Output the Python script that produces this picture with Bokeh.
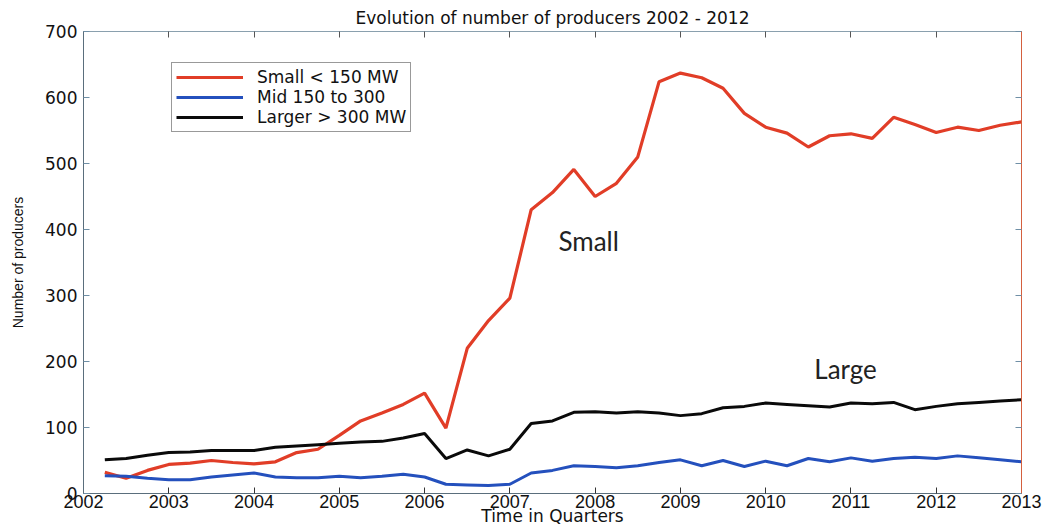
from bokeh.plotting import figure
from bokeh.models import (Range1d, LinearAxis, FixedTicker, Legend, LegendItem, Label,
                          CustomLabelingPolicy)
from bokeh.embed import file_html
from bokeh.resources import INLINE

# ---- data (quarterly) ----
quarters = [2002.25, 2002.5, 2002.75, 2003.0, 2003.25, 2003.5, 2003.75, 2004.0,
            2004.25, 2004.5, 2004.75, 2005.0, 2005.25, 2005.5, 2005.75, 2006.0,
            2006.25, 2006.5, 2006.75, 2007.0, 2007.25, 2007.5, 2007.75, 2008.0,
            2008.25, 2008.5, 2008.75, 2009.0, 2009.25, 2009.5, 2009.75, 2010.0,
            2010.25, 2010.5, 2010.75, 2011.0, 2011.25, 2011.5, 2011.75, 2012.0,
            2012.25, 2012.5, 2012.75, 2013.0]

small = [32, 23, 35, 44, 46, 50, 47, 45,
         48, 62, 67, 88, 110, 122, 135, 152,
         99, 220, 262, 296, 430, 456, 491, 450,
         470, 510, 624, 637, 630, 614, 576, 555,
         546, 525, 542, 545, 538, 570, 559, 547,
         555, 550, 558, 563]

mid = [27, 26, 23, 21, 21, 25, 28, 31,
       25, 24, 24, 26, 24, 26, 29, 25,
       14, 13, 12, 14, 31, 35, 42, 41,
       39, 42, 47, 51, 42, 50, 41, 49,
       42, 53, 48, 54, 49, 53, 55, 53,
       57, 54, 51, 48]

large = [51, 53, 58, 62, 63, 65, 65, 65,
         70, 72, 74, 76, 78, 79, 84, 91,
         53, 66, 57, 67, 106, 110, 123, 124,
         122, 124, 122, 118, 121, 130, 132, 137,
         135, 133, 131, 137, 136, 138, 127, 132,
         136, 138, 140, 142]

series_labels = ["Small < 150 MW", "Mid 150 to 300", "Larger > 300 MW"]
year_ticks = [2002, 2003, 2004, 2005, 2006, 2007, 2008, 2009, 2010, 2011, 2012, 2013]
value_ticks = [0, 100, 200, 300, 400, 500, 600, 700]

TITLE = "Evolution of number of producers 2002 - 2012"

p = figure(width=1050, height=529, output_backend="svg", toolbar_location=None,
           x_range=Range1d(2002, 2013), y_range=Range1d(0, 700),
           min_border_left=83, min_border_right=29, min_border_top=31,
           min_border_bottom=36, title=TITLE)

p.title.text_font = "DejaVu Sans"
p.title.text_font_size = "17px"
p.title.text_font_style = "normal"
p.title.text_color = "#111111"
p.title.align = "center"
p.title.standoff = 8
p.outline_line_color = None
p.grid.visible = False
p.background_fill_color = "white"
p.border_fill_color = "white"

axis_col = "#5a6e7c"
no_labels = CustomLabelingPolicy(code="for (const i of indices) { indices.unset(i) }\nreturn indices")

# bottom axis
xa = p.xaxis[0]
xa.ticker = FixedTicker(ticks=year_ticks)
xa.major_label_text_font = "Liberation Sans"
xa.major_label_text_font_size = "18px"
xa.major_label_text_color = "#111111"
xa.major_label_standoff = 1
xa.major_tick_in = 6
xa.major_tick_out = 0
xa.minor_tick_line_color = None
xa.axis_line_color = axis_col
xa.major_tick_line_color = "#333333"
xa.axis_label = "Time in Quarters"
xa.axis_label_text_font = "DejaVu Sans"
xa.axis_label_text_font_size = "17px"
xa.axis_label_text_font_style = "normal"
xa.axis_label_text_color = "#111111"
xa.axis_label_standoff = -5

# left axis
ya = p.yaxis[0]
ya.ticker = FixedTicker(ticks=value_ticks)
ya.major_label_text_font = "DejaVu Sans"
ya.major_label_text_font_size = "17px"
ya.major_label_text_color = "#111111"
ya.major_label_standoff = 6
ya.major_tick_in = 6
ya.major_tick_out = 0
ya.minor_tick_line_color = None
ya.axis_line_color = axis_col
ya.major_tick_line_color = "#6f8fa6"
ya.axis_label = "Number of producers"
ya.axis_label_text_font = "Liberation Sans"
ya.axis_label_text_font_size = "14px"
ya.axis_label_text_font_style = "normal"
ya.axis_label_text_color = "#111111"
ya.axis_label_standoff = 16

# top axis (ticks only)
top = LinearAxis(ticker=FixedTicker(ticks=year_ticks), major_label_text_font_size="0px",
                 major_label_policy=no_labels,
                 major_label_standoff=0, major_tick_in=6, major_tick_out=0,
                 minor_tick_line_color=None, axis_line_color="#8aa0ae",
                 major_tick_line_color="#555555")
p.add_layout(top, "above")

# right axis (ticks only)
right = LinearAxis(ticker=FixedTicker(ticks=value_ticks), major_label_text_font_size="0px",
                   major_label_policy=no_labels,
                   major_label_standoff=0, major_tick_in=6, major_tick_out=0,
                   minor_tick_line_color=None, axis_line_color="#d4603e",
                   major_tick_line_color="#6f8fa6")
p.add_layout(right, "right")

r_small = p.line(quarters, small, line_color="#e13d27", line_width=3.2)
r_mid = p.line(quarters, mid, line_color="#2450bd", line_width=3)
r_large = p.line(quarters, large, line_color="#0a0a0a", line_width=3)

legend = Legend(items=[LegendItem(label=series_labels[0], renderers=[r_small]),
                       LegendItem(label=series_labels[1], renderers=[r_mid]),
                       LegendItem(label=series_labels[2], renderers=[r_large])],
                location=(88, 361))
legend.border_line_color = "#333333"
legend.border_line_width = 1
legend.background_fill_color = "white"
legend.background_fill_alpha = 1
legend.padding = 4
legend.spacing = 0
legend.margin = 0
legend.glyph_width = 67
legend.glyph_height = 18
legend.label_height = 18
legend.label_standoff = 14
legend.label_text_font = "DejaVu Sans"
legend.label_text_font_size = "17px"
legend.label_text_color = "#111111"
p.add_layout(legend)

p.add_layout(Label(x=2007.57, y=383, text="Small", text_align="left",
                   text_baseline="alphabetic", text_font="Lato", text_font_size="26px",
                   text_color="#222222"))
p.add_layout(Label(x=2010.57, y=188, text="Large", text_align="left",
                   text_baseline="alphabetic", text_font="Lato", text_font_size="26px",
                   text_color="#222222"))

open("out.html", "w").write(file_html(p, INLINE))
